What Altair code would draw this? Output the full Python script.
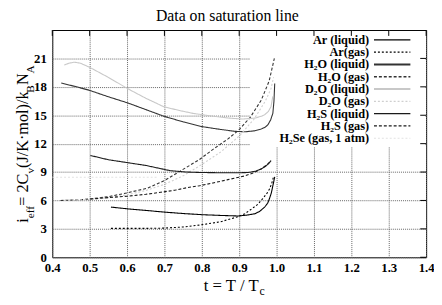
import altair as alt
import pandas as pd

# ---------------- data ----------------
series_names = ["Ar (liquid)", "Ar(gas)", "H₂O (liquid)", "H₂O (gas)", "D₂O (liquid)",
                "D₂O (gas)", "H₂S (liquid)", "H₂S (gas)", "H₂Se (gas, 1 atm)"]

ar_liq_t = [0.557, 0.6, 0.65, 0.7, 0.75, 0.8, 0.85, 0.898, 0.92, 0.942, 0.955, 0.968, 0.976, 0.981, 0.986, 0.99, 0.993, 0.995]
ar_liq_v = [5.3, 5.12, 4.95, 4.77, 4.62, 4.5, 4.42, 4.36, 4.45, 4.6, 4.85, 5.3, 5.7, 6.2, 6.8, 7.55, 8.1, 8.5]

ar_gas_t = [0.557, 0.6, 0.65, 0.7, 0.75, 0.794, 0.85, 0.894, 0.915, 0.933, 0.95, 0.963, 0.975, 0.981, 0.987, 0.99, 0.993]
ar_gas_v = [3.05, 3.05, 3.05, 3.08, 3.2, 3.4, 3.75, 4.25, 4.6, 5.1, 5.6, 6.2, 6.8, 7.2, 7.8, 8.25, 8.6]

h2o_liq_t = [0.424, 0.46, 0.498, 0.55, 0.602, 0.65, 0.698, 0.75, 0.8, 0.85, 0.889, 0.916, 0.94, 0.959, 0.97, 0.977, 0.984, 0.99, 0.993, 0.995]
h2o_liq_v = [18.4, 18.05, 17.65, 16.95, 16.3, 15.6, 14.9, 14.3, 13.8, 13.5, 13.3, 13.25, 13.35, 13.55, 13.75, 14.0, 14.5, 15.2, 16.5, 18.35]

h2o_gas_t = [0.422, 0.46, 0.5, 0.55, 0.6, 0.655, 0.7, 0.742, 0.793, 0.83, 0.87, 0.898, 0.93, 0.959, 0.98, 0.994]
h2o_gas_v = [6.0, 6.05, 6.15, 6.4, 6.8, 7.3, 8.1, 9.1, 10.3, 11.4, 12.5, 13.4, 14.8, 16.6, 18.6, 21.0]

d2o_liq_t = [0.432, 0.445, 0.459, 0.475, 0.498, 0.55, 0.602, 0.65, 0.698, 0.74, 0.776, 0.82, 0.872, 0.91, 0.942, 0.96, 0.968, 0.978, 0.985, 0.99]
d2o_liq_v = [20.3, 20.5, 20.6, 20.5, 20.1, 19.0, 17.8, 16.8, 15.9, 15.5, 15.2, 14.95, 14.7, 14.6, 14.7, 14.9, 15.05, 15.4, 15.9, 17.0]

d2o_gas_t = [0.432, 0.5, 0.55, 0.6, 0.65, 0.7, 0.75, 0.8, 0.85, 0.9, 0.94, 0.97, 0.985, 0.992]
d2o_gas_v = [6.02, 6.1, 6.3, 6.6, 7.05, 7.7, 8.6, 9.8, 11.1, 12.8, 14.6, 16.5, 17.8, 19.0]

h2s_liq_t = [0.502, 0.55, 0.6, 0.65, 0.715, 0.76, 0.8, 0.85, 0.9, 0.924, 0.945, 0.96, 0.972, 0.98, 0.985]
h2s_liq_v = [10.75, 10.3, 10.0, 9.7, 9.15, 9.0, 8.95, 8.93, 8.93, 8.95, 9.1, 9.35, 9.65, 9.95, 10.2]

h2s_gas_t = [0.502, 0.55, 0.6, 0.65, 0.69, 0.73, 0.767, 0.794, 0.83, 0.87, 0.916, 0.94, 0.96, 0.975, 0.985]
h2s_gas_v = [6.15, 6.3, 6.45, 6.65, 6.86, 7.1, 7.4, 7.55, 7.85, 8.2, 8.6, 8.95, 9.35, 9.8, 10.2]

h2se_gas_t = [0.4, 0.68]
h2se_gas_v = [8.45, 8.45]

x_ticks = [0.4, 0.5, 0.6, 0.7, 0.8, 0.9, 1.0, 1.1, 1.2, 1.3, 1.4]
y_ticks = [0, 3, 6, 9, 12, 15, 18, 21]

# ---------------- styles ----------------
colors = ["#000000", "#000000", "#333333", "#333333", "#c8c8c8", "#cfcfcf", "#1a1a1a", "#1a1a1a", "#e2e2e2"]
dashes = [[1, 0], [2, 2], [1, 0], [3, 2], [1, 0], [2, 2], [1, 0], [3, 2], [2, 2]]
widths = [1.1, 1.1, 2.0, 1.4, 2.0, 1.3, 1.2, 1.3, 1.2]

all_t = [ar_liq_t, ar_gas_t, h2o_liq_t, h2o_gas_t, d2o_liq_t, d2o_gas_t, h2s_liq_t, h2s_gas_t, h2se_gas_t]
all_v = [ar_liq_v, ar_gas_v, h2o_liq_v, h2o_gas_v, d2o_liq_v, d2o_gas_v, h2s_liq_v, h2s_gas_v, h2se_gas_v]

rows = []
for i, (name, ts, vs) in enumerate(zip(series_names, all_t, all_v)):
    for t, v in zip(ts, vs):
        rows.append({"series": name, "order": i, "t": t, "v": v})
df = pd.DataFrame(rows)

W, H = 380, 231
FONT = "Liberation Serif"

x_scale = alt.Scale(domain=[0.4, 1.4], nice=False, zero=False)
y_scale = alt.Scale(domain=[0, 24], nice=False)
x_axis = alt.Axis(values=x_ticks, format=".1f", labelPadding=4, title=None)
y_axis = alt.Axis(values=y_ticks, format="d", labelPadding=6, title=None)

# white legend box (covers grid)
box = alt.Chart(alt.Data(values=[{}])).mark_rect(color="white").encode(
    x=alt.value(201), x2=alt.value(379), y=alt.value(1), y2=alt.value(119)
)

# inward ticks on right and top border
ytick_df = pd.DataFrame({"v": y_ticks})
xtick_df = pd.DataFrame({"t": x_ticks})
right_ticks = alt.Chart(ytick_df).mark_rule(color="black", strokeWidth=1).encode(
    y=alt.Y("v:Q", scale=y_scale, axis=y_axis), x=alt.value(W - 6), x2=alt.value(W)
)
top_ticks = alt.Chart(xtick_df).mark_rule(color="black", strokeWidth=1).encode(
    x=alt.X("t:Q", scale=x_scale, axis=x_axis), y=alt.value(0), y2=alt.value(6)
)

lines = alt.Chart(df).mark_line(clip=True).encode(
    x=alt.X("t:Q", scale=x_scale, axis=x_axis),
    y=alt.Y("v:Q", scale=y_scale, axis=y_axis),
    color=alt.Color("series:N", scale=alt.Scale(domain=series_names, range=colors), legend=None),
    strokeDash=alt.StrokeDash("series:N", scale=alt.Scale(domain=series_names, range=dashes), legend=None),
    strokeWidth=alt.StrokeWidth("series:N", scale=alt.Scale(domain=series_names, range=widths), legend=None),
    order=alt.Order("order:Q"),
)

# legend entries
layers = [box, lines, right_ticks, top_ticks]
for i, name in enumerate(series_names):
    ypx = 10 + i * 12.5
    layers.append(
        alt.Chart(alt.Data(values=[{"label": name}])).mark_text(
            font=FONT, fontSize=12.5, fontWeight="bold", align="right", baseline="middle", color="black"
        ).encode(text="label:N", x=alt.value(322), y=alt.value(ypx))
    )
    layers.append(
        alt.Chart(alt.Data(values=[{}])).mark_rule(
            color=colors[i], strokeDash=dashes[i], strokeWidth=widths[i]
        ).encode(x=alt.value(327), x2=alt.value(364), y=alt.value(ypx))
    )

# chart title
layers.append(
    alt.Chart(alt.Data(values=[{"s": "Data on saturation line"}])).mark_text(
        font=FONT, fontSize=16, align="center", baseline="alphabetic", color="black"
    ).encode(text="s:N", x=alt.value(178), y=alt.value(-9))
)

# Times-like glyph widths (em)
tw = {'i': .278, 'e': .444, 'f': .333, ' ': .25, '=': .564, '2': .5, 'C': .667, 'v': .5,
      '(': .333, 'J': .389, '/': .278, 'K': .722, '·': .25, 'm': .778, 'o': .5, 'l': .278,
      ')': .333, 'k': .5, 'B': .667, 'N': .722, 'A': .722, 't': .278, 'T': .611, 'c': .444}


def width(s, size):
    return sum(tw.get(ch, .5) for ch in s) * size


# x axis title: t = T / T_c
xt_parts = [("t = T / T", 17, 0), ("c", 12, 4)]
total = sum(width(s, sz) for s, sz, _ in xt_parts)
cx = 185 - total / 2
for s, sz, dy in xt_parts:
    layers.append(
        alt.Chart(alt.Data(values=[{"s": s}])).mark_text(
            font=FONT, fontSize=sz, align="left", baseline="alphabetic", color="black", dy=dy
        ).encode(text="s:N", x=alt.value(cx), y=alt.value(265))
    )
    cx += width(s, sz)

# y axis title: i_eff = 2C_v(J/K·mol)/k_B N_A  (rotated)
MAIN, SUB = 16.5, 11.5
yt_parts = [("i", MAIN, 0), ("eff", SUB, 6), ("= 2C", MAIN, 0), ("v", SUB, 6),
            ("(J/K·mol)/k", MAIN, 0), ("B", SUB, 6), ("N", MAIN, 0), ("A", SUB, 6)]
cy = 196
for s, sz, dy in yt_parts:
    layers.append(
        alt.Chart(alt.Data(values=[{"s": s}])).mark_text(
            font=FONT, fontSize=sz, align="left", baseline="alphabetic", angle=270,
            color="black", dy=dy
        ).encode(text="s:N", x=alt.value(-25), y=alt.value(cy))
    )
    cy -= width(s, sz)

chart = alt.layer(*layers).properties(
    width=W, height=H,
    padding={"left": 45, "top": 20, "right": 8, "bottom": 38},
    autosize="none",
).configure_view(
    stroke="black", strokeWidth=1
).configure_axis(
    labelFont=FONT, labelFontSize=13, labelFontWeight="bold", labelColor="black",
    labelOverlap=False, labelFlush=False,
    ticks=False, domain=False, grid=True, gridColor="#666666", gridDash=[1, 1],
    gridOpacity=1, gridWidth=1
)

chart.save("out.html", embed_options={"renderer": "svg", "actions": False})
